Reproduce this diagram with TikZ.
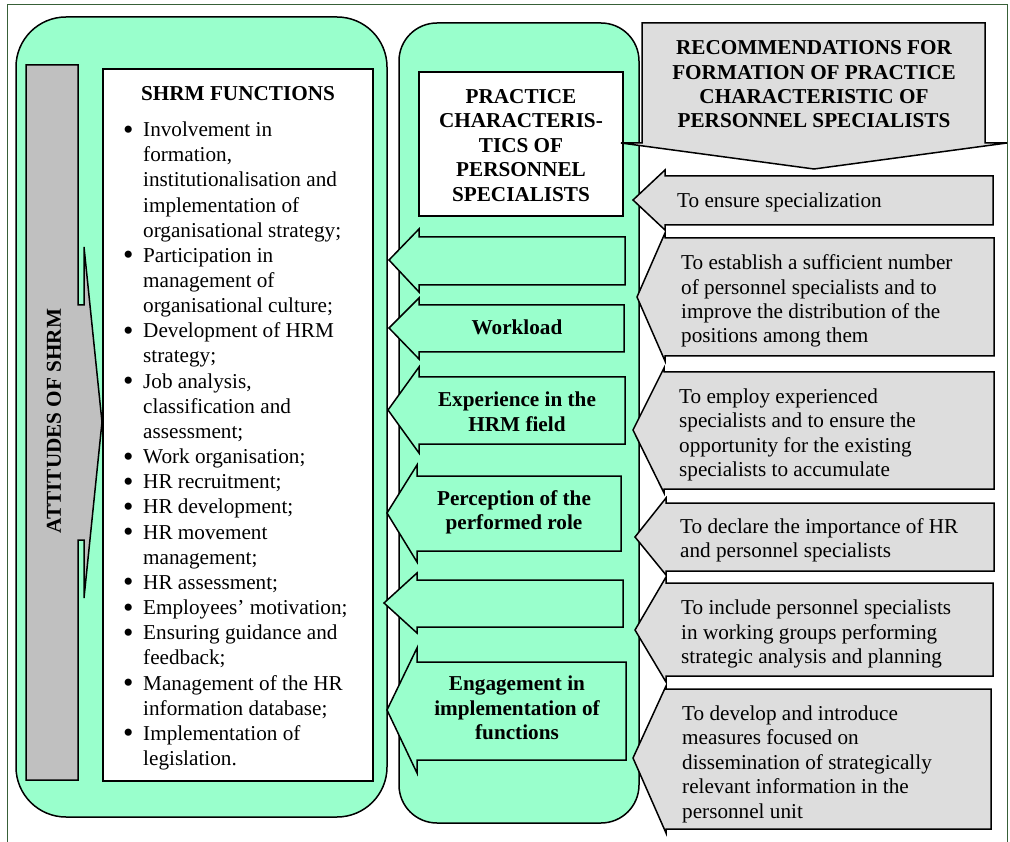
\documentclass[tikz,border=0pt]{standalone}
\usepackage{fontspec}
\usepackage{graphicx}
\setmainfont{Liberation Serif}
\definecolor{mint}{RGB}{153,255,204}
\definecolor{bargray}{RGB}{192,192,192}
\definecolor{recgray}{RGB}{221,221,221}
\definecolor{framegreen}{RGB}{56,96,56}
\newcommand{\bl}{\makebox[20pt][l]{\smash{\raisebox{-0.12em}{\scalebox{1.4}{•}}}}}
\newcommand{\ind}{\hspace*{20pt}}
\begin{document}
\begin{tikzpicture}[x=1pt,y=-1pt,
  shape line/.style={draw=black,line width=1.5pt,line join=miter},
  greenfill/.style={shape line,fill=mint},
  recfill/.style={shape line,fill=recgray},
  rtxt/.style={font=\fontsize{21.2}{24.4}\selectfont,inner sep=0pt,align=left,anchor=west,yshift=-3pt},
  btxt/.style={font=\bfseries\fontsize{21.2}{24.4}\selectfont,inner sep=0pt,align=center,yshift=-3pt},
  ltxt/.style={font=\fontsize{21.2}{25.16}\selectfont,inner sep=0pt,align=left,anchor=west,yshift=-2.5pt}]
\useasboundingbox (0,0) rectangle (1010,842);
\fill[white] (0,0) rectangle (1010,842);
% outer frame
\draw[framegreen,line width=1pt] (7,842) -- (7,5) -- (1007,5) -- (1007,842);
% left column
\draw[greenfill,rounded corners=50pt] (16,17) rectangle (387,817);
% attitudes bar with arrow
\draw[shape line,fill=bargray] (26,65) -- (78,65) -- (78,305) -- (84,305) -- (84,247) -- (102,422)
  -- (84,598) -- (84,540) -- (78,540) -- (78,780) -- (26,780) -- cycle;
\node[font=\bfseries\fontsize{21.2}{24.4}\selectfont,inner sep=0pt,rotate=90] (att) at (54,421) {ATTITUDES OF SHRM};
% functions box
\draw[shape line,fill=white] (103,69) rectangle (373,781);
\node[btxt] (funct) at (238,93) {\strut SHRM FUNCTIONS};
\node[ltxt] (flist) at (123,443.5) {\strut\bl Involvement in\\
\ind formation,\\
\ind institutionalisation and\\
\ind implementation of\\
\ind organisational strategy;\\
\bl Participation in\\
\ind management of\\
\ind organisational culture;\\
\bl Development of HRM\\
\ind strategy;\\
\bl Job analysis,\\
\ind classification and\\
\ind assessment;\\
\bl Work organisation;\\
\bl HR recruitment;\\
\bl HR development;\\
\bl HR movement\\
\ind management;\\
\bl HR assessment;\\
\bl Employees’ motivation;\\
\bl Ensuring guidance and\\
\ind feedback;\\
\bl Management of the HR\\
\ind information database;\\
\bl Implementation of\\
\ind legislation.\strut};
% middle column
\draw[greenfill,rounded corners=38pt] (399,23) rectangle (639,823);
\draw[shape line,fill=white] (419,72) rectangle (623,216);
\node[btxt] (prac) at (521,144.5) {\strut PRACTICE\\ CHARACTERIS-\\ TICS OF\\ PERSONNEL\\ SPECIALISTS\strut};
% green arrows
\draw[greenfill] (625,237) -- (625,285) -- (419,285) -- (419,292) -- (389,260) -- (419,229) -- (419,237) -- cycle;
\draw[greenfill] (624,305) -- (624,352) -- (419,352) -- (419,359) -- (389,328) -- (419,298) -- (419,305) -- cycle;
\node[btxt] (work) at (517,327) {\strut Workload};
\draw[greenfill] (625,377) -- (625,444) -- (419,444) -- (419,453) -- (388,410) -- (419,367) -- (419,377) -- cycle;
\node[btxt] (exper) at (517,411) {\strut Experience in the\\ HRM field\strut};
\draw[greenfill] (621,476) -- (621,551) -- (417,551) -- (417,562) -- (387,513) -- (417,465) -- (417,476) -- cycle;
\node[btxt] (perc) at (514,509.5) {\strut Perception of the\\ performed role\strut};
\draw[greenfill] (623,580) -- (623,627) -- (417,627) -- (417,633) -- (384,603) -- (417,573) -- (417,580) -- cycle;
\draw[greenfill] (626,662) -- (626,760) -- (417,760) -- (417,773) -- (387,710) -- (417,648) -- (417,662) -- cycle;
\node[btxt] (engage) at (517,707.5) {\strut Engagement in\\ implementation of\\ functions\strut};
% recommendations header
\draw[recfill] (642,143) -- (642,23) -- (985,23) -- (985,143) -- (1007,143) -- (814,169) -- (621,143) -- cycle;
\node[btxt] (rechead) at (814,83.5) {\strut RECOMMENDATIONS FOR\\ FORMATION OF PRACTICE\\ CHARACTERISTIC OF\\ PERSONNEL SPECIALISTS\strut};
% recommendation arrows
\draw[recfill] (993,176) -- (993,225) -- (665,225) -- (665,230) -- (633,200) -- (665,170) -- (665,176) -- cycle;
\node[rtxt] (r1) at (677,200) {\strut To ensure specialization};
\draw[recfill] (994,238) -- (994,356) -- (665,356) -- (665,361) -- (637,297) -- (665,233) -- (665,238) -- cycle;
\node[rtxt] (r2) at (681,298.5) {\strut To establish a sufficient number\\ of personnel specialists and to\\ improve the distribution of the\\ positions among them\strut};
\draw[recfill] (994,372) -- (994,489) -- (664,489) -- (664,493) -- (633,430) -- (664,368) -- (664,372) -- cycle;
\node[rtxt] (r3) at (679,432) {\strut To employ experienced\\ specialists and to ensure the\\ opportunity for the existing\\ specialists to accumulate\strut};
\draw[recfill] (994,503) -- (994,571) -- (666,571) -- (666,575) -- (635,537) -- (666,498) -- (666,503) -- cycle;
\node[rtxt] (r4) at (680,537.5) {\strut To declare the importance of HR\\ and personnel specialists\strut};
\draw[recfill] (993,583) -- (993,676) -- (666,676) -- (666,682) -- (635,630) -- (666,577) -- (666,583) -- cycle;
\node[rtxt] (r5) at (681,631.5) {\strut To include personnel specialists\\ in working groups performing\\ strategic analysis and planning\strut};
\draw[recfill] (991,689) -- (991,829) -- (666,829) -- (666,833) -- (633,758) -- (666,686) -- (666,689) -- cycle;
\node[rtxt] (r6) at (682,761.5) {\strut To develop and introduce\\ measures focused on\\ dissemination of strategically\\ relevant information in the\\ personnel unit\strut};
\end{tikzpicture}
\end{document}
